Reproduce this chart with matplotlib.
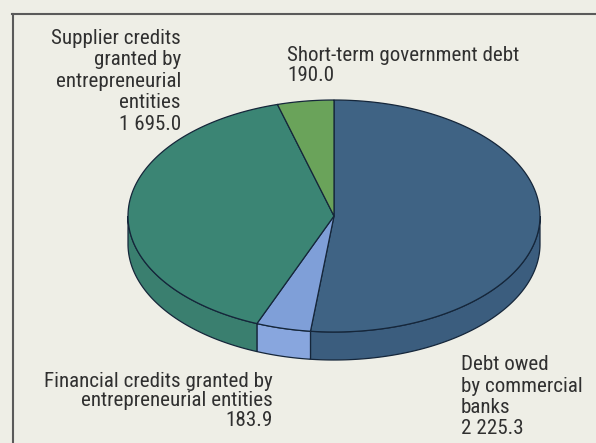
import numpy as np
import matplotlib
matplotlib.use("Agg")
import matplotlib.pyplot as plt
from matplotlib import font_manager

# Debt components
labels = [
    ["Debt owed", "by commercial", "banks"],
    ["Financial credits granted by", "entrepreneurial entities"],
    ["Supplier credits", "granted by", "entrepreneurial", "entities"],
    ["Short-term government debt"],
]
values = [2225.3, 183.9, 1695.0, 190.0]
value_text = ["2 225.3", "183.9", "1 695.0", "190.0"]

top_colors = ["#3f6384", "#7f9fd8", "#3b8574", "#6aa35a"]
side_colors = ["#3b5d7e", "#88a6de", "#3a7f6f", "#5f9650"]
edge = "#15263a"

# pie geometry (axes units = pixels)
cx, cy = 334, 216
rx, ry = 206, 116
depth = 28

fig = plt.figure(figsize=(5.96, 4.43), dpi=100, facecolor="#eeeee6")
ax = fig.add_axes([0, 0, 1, 1])
ax.set_xlim(0, 596)
ax.set_ylim(443, 0)
ax.axis("off")

fracs = np.array(values) / sum(values)
bounds = 90 - 360 * np.concatenate([[0], np.cumsum(fracs)])


def arc(t0, t1, dy=0, n=120):
    t = np.radians(np.linspace(t0, t1, n))
    return cx + rx * np.cos(t), cy - ry * np.sin(t) + dy


# side walls of the front half
for i in range(len(values)):
    a = min(bounds[i], 0)
    b = max(bounds[i + 1], -180)
    if a <= b:
        continue
    xt, yt = arc(a, b)
    xb, yb = arc(b, a, depth)
    ax.fill(np.r_[xt, xb], np.r_[yt, yb], facecolor=side_colors[i],
            edgecolor=edge, linewidth=0.9, zorder=2)

# top faces
for i in range(len(values)):
    xs, ys = arc(bounds[i], bounds[i + 1])
    ax.fill(np.r_[cx, xs], np.r_[cy, ys], facecolor=top_colors[i],
            edgecolor=edge, linewidth=0.9, zorder=3)

# frame (top and left rules)
ax.plot([12, 596], [14, 14], color="#5a5a5a", lw=1.5, zorder=1)
ax.plot([12.5, 12.5], [14, 443], color="#5a5a5a", lw=1.5, zorder=1)

# pick the narrowest sans available
fonts = font_manager.fontManager.ttflist
names = {f.name for f in fonts}
fontkw = {"family": ["DejaVu Sans"]}
for name in ["Liberation Sans Narrow", "Roboto Condensed", "Open Sans Condensed"]:
    if name in names:
        fontkw = {"family": [name, "DejaVu Sans"]}
        break
else:
    if any(f.name == "DejaVu Sans" and f.stretch == "condensed" for f in fonts):
        fontkw = {"family": ["DejaVu Sans"], "fontstretch": "condensed"}
    elif "Roboto" in names:
        fontkw = {"family": ["Roboto", "DejaVu Sans"]}

renderer = fig.canvas.get_renderer()
probe = ax.text(0, 0, "Financial credits granted by", fontsize=14, **fontkw)
size = 14 * 230 / probe.get_window_extent(renderer=renderer).width
probe.remove()


def block(x, baseline, lines, ha, step=21.5):
    for k, s in enumerate(lines):
        ax.text(x, baseline + k * step, s, ha=ha, va="baseline",
                fontsize=size, color="#303030", **fontkw)


block(181, 43.5, labels[2] + [value_text[2]], "right")
block(287, 61, labels[3] + [value_text[3]], "left", step=20)
block(273, 387, labels[1] + [value_text[1]], "right", step=19.5)
block(461, 370, labels[0] + [value_text[0]], "left")

fig.savefig("out.png", dpi=100, facecolor=fig.get_facecolor())
